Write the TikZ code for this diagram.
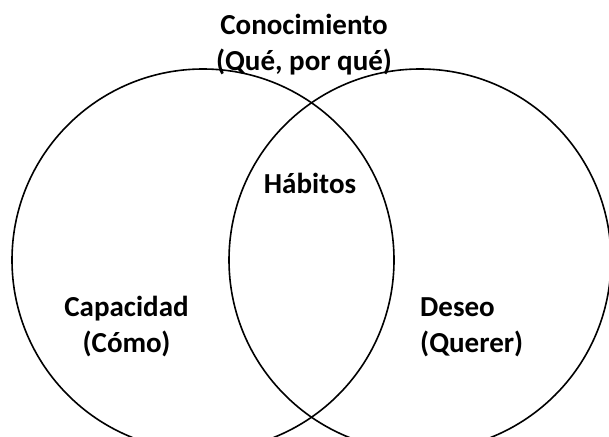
\documentclass[tikz,border=0pt]{standalone}
\usepackage{fontspec}
\setmainfont{Carlito}
\usetikzlibrary{positioning}

\begin{document}
\begin{tikzpicture}[x=1pt,y=-1pt,
    conjunto/.style={circle,draw,line width=1.6pt,minimum size=382pt,inner sep=0pt},
    etiqueta/.style={font=\fontsize{29}{35.5}\selectfont\bfseries,inner sep=0pt}]
            \useasboundingbox (0,0) rectangle (609,436);
            \clip (0,0) rectangle (609,436);
            \node[conjunto] (capacidad) at (203,260) {};
            \node[conjunto] (deseo) at (420,260) {};
            \node[etiqueta,align=center,anchor=base] (conocimiento) at (304,70) {Conocimiento\\(Qué, por qué)};
            \node[etiqueta,anchor=base] (habitos) at (310,193) {Hábitos};
            \node[etiqueta,align=center,anchor=base] (capac) at (126.5,352) {Capacidad\\(Cómo)};
            \node[etiqueta,align=left,anchor=base west] (des) at (420,352) {Deseo\\(Querer)};
        \end{tikzpicture}
\end{document}
